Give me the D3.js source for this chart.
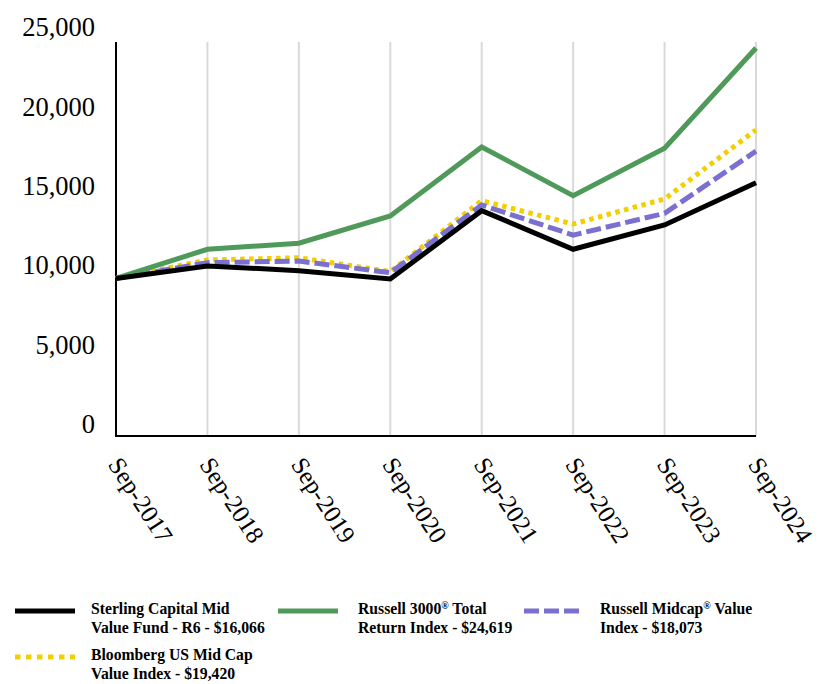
<!DOCTYPE html>
<html><head><meta charset="utf-8">
<script src="https://cdn.jsdelivr.net/npm/d3@7"></script>
<style>body{margin:0;background:#fff}svg{display:block}</style>
</head><body>
<svg id="c" width="828" height="684"></svg>
<script>
const categories = ["Sep-2017","Sep-2018","Sep-2019","Sep-2020","Sep-2021","Sep-2022","Sep-2023","Sep-2024"];
const sterling = [10000,10790,10490,9960,14300,11850,13390,16066];
const russell3000 = [10000,11850,12230,13960,18340,15250,18260,24619];
const midcapValue = [10000,11000,11100,10360,14660,12750,14130,18073];
const bloomberg = [10000,11170,11310,10430,14930,13450,15040,19420];
const yTicks = [0,5000,10000,15000,20000,25000];

const FONT = "'Liberation Serif', 'Times New Roman', Times, serif";

const series = [
  {name:["Bloomberg US Mid Cap","Value Index - $19,420"], values:bloomberg, color:"#f2cf00", dash:"4.5,4.5", legDash:"5.5,5.5"},
  {name:["Russell Midcap® Value","Index - $18,073"], values:midcapValue, color:"#7b6fd0", dash:"15,5", legDash:"15,5"},
  {name:["Russell 3000® Total","Return Index - $24,619"], values:russell3000, color:"#4f9a5a", dash:null, legDash:null},
  {name:["Sterling Capital Mid","Value Fund - R6 - $16,066"], values:sterling, color:"#000000", dash:null, legDash:null}
];

const svg = d3.select("#c");
const x = d3.scalePoint().domain(categories).range([116,756]);
const y = d3.scaleLinear().domain([0,25000]).range([436,42]);
const yLab = d3.scaleLinear().domain([0,25000]).range([424,27]);

// gridlines
svg.append("g").selectAll("line").data(categories.slice(1)).join("line")
  .attr("x1",d=>x(d)).attr("x2",d=>x(d)).attr("y1",y(25000)).attr("y2",y(0))
  .attr("stroke","#d9d9d9").attr("stroke-width",2);

// y labels
svg.append("g").selectAll("text").data(yTicks).join("text")
  .attr("x",95).attr("y",d=>yLab(d)).attr("dy","0.35em").attr("text-anchor","end")
  .attr("font-family",FONT).attr("font-size",26.5)
  .text(d=>d3.format(",")(d));

// x labels
svg.append("g").selectAll("text").data(categories).join("text")
  .attr("transform",d=>`translate(${x(d)+6},${455}) rotate(57)`)
  .attr("dy","0.7em")
  .attr("font-family",FONT).attr("font-size",25)
  .text(d=>d);

// axes lines
svg.append("line").attr("x1",116).attr("x2",116).attr("y1",y(25000)).attr("y2",y(0)+1).attr("stroke","#000").attr("stroke-width",2);
svg.append("line").attr("x1",115).attr("x2",x(categories[7])).attr("y1",y(0)).attr("y2",y(0)).attr("stroke","#000").attr("stroke-width",2);

const line = d3.line().x((d,i)=>x(categories[i])).y(d=>y(d));
series.forEach(s=>{
  svg.append("path").attr("d",line(s.values)).attr("fill","none")
    .attr("stroke",s.color).attr("stroke-width",5)
    .attr("stroke-dasharray",s.dash).attr("stroke-linejoin","miter");
});

// legend
const legend = [
  {s:series[3], lx:15, tx:91, y:611},
  {s:series[2], lx:278, tx:358, y:611},
  {s:series[1], lx:524, tx:600, y:611},
  {s:series[0], lx:15, tx:91, y:657}
];
legend.forEach(l=>{
  svg.append("line").attr("x1",l.lx).attr("x2",l.lx+60).attr("y1",l.y).attr("y2",l.y)
    .attr("stroke",l.s.color).attr("stroke-width",5).attr("stroke-dasharray",l.s.legDash);
  const t = svg.append("text").attr("x",l.tx).attr("y",l.y-2)
    .attr("font-family",FONT).attr("font-size",15.7).attr("font-weight","bold");
  l.s.name.forEach((n,i)=>{
    const ts = t.append("tspan").attr("x",l.tx).attr("dy",i===0?"0.35em":"1.15em");
    const parts = n.split("®");
    ts.append("tspan").text(parts[0]);
    if(parts.length>1){
      ts.append("tspan").attr("font-size",10).attr("baseline-shift","super").text("®");
      ts.append("tspan").text(parts[1]);
    }
  });
});
</script>
</body></html>
